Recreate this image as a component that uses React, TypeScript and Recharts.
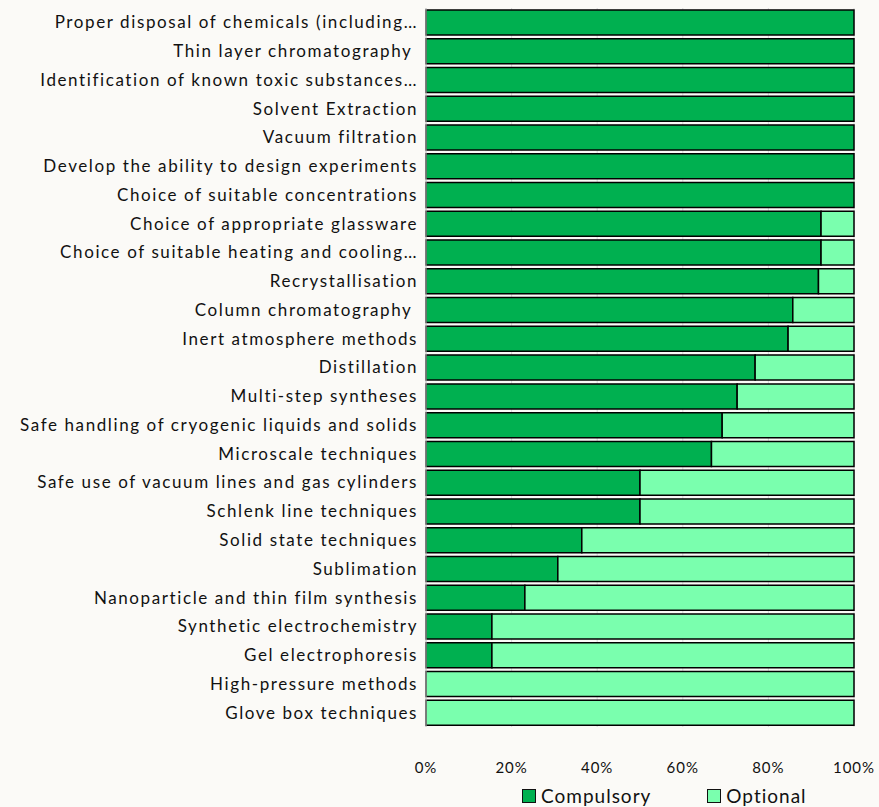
import { BarChart, Bar, XAxis, YAxis, CartesianGrid, Legend } from "recharts";

const categories = [
  "Proper disposal of chemicals (including…",
  "Thin layer chromatography ",
  "Identification of known toxic substances…",
  "Solvent Extraction",
  "Vacuum filtration",
  "Develop the ability to design experiments",
  "Choice of suitable concentrations",
  "Choice of appropriate glassware",
  "Choice of suitable heating and cooling…",
  "Recrystallisation",
  "Column chromatography ",
  "Inert atmosphere methods",
  "Distillation",
  "Multi-step syntheses",
  "Safe handling of cryogenic liquids and solids",
  "Microscale techniques",
  "Safe use of vacuum lines and gas cylinders",
  "Schlenk line techniques",
  "Solid state techniques",
  "Sublimation",
  "Nanoparticle and thin film synthesis",
  "Synthetic electrochemistry",
  "Gel electrophoresis",
  "High-pressure methods",
  "Glove box techniques",
];

const compulsory = [100, 100, 100, 100, 100, 100, 100, 92.3, 92.3, 91.7, 85.7, 84.6, 76.9, 72.7, 69.2, 66.7, 50, 50, 36.4, 30.8, 23.1, 15.4, 15.4, 0, 0];
const optional = [0, 0, 0, 0, 0, 0, 0, 7.7, 7.7, 8.3, 14.3, 15.4, 23.1, 27.3, 30.8, 33.3, 50, 50, 63.6, 69.2, 76.9, 84.6, 84.6, 100, 100];

const xTicks = [0, 20, 40, 60, 80, 100];

const data = categories.map((name, i) => ({ name, compulsory: compulsory[i], optional: optional[i] }));

const FONT = "Lato, 'Open Sans', sans-serif";

const CategoryTick = (props: any) => {
  const { x, y, payload } = props;
  return (
    <text x={x} y={y} dy="0.35em" textAnchor="end" fill="#111" fontSize={17} letterSpacing={1.6} fontFamily={FONT} style={{ whiteSpace: "pre" }}>
      {payload.value}
    </text>
  );
};

const LegendContent = (props: any) => {
  const items = props.payload || [];
  return (
    <div style={{ display: "flex", gap: 56, paddingLeft: 522, fontFamily: FONT, fontSize: 19, letterSpacing: 1, color: "#111" }}>
      {items.map((it: any) => (
        <div key={it.value} style={{ display: "flex", alignItems: "center", gap: 5 }}>
          <span style={{ width: 12, height: 12, background: it.color, border: "1.5px solid #111", display: "inline-block" }} />
          <span>{it.value}</span>
        </div>
      ))}
    </div>
  );
};

export default function App() {
  return (
    <div style={{ position: "absolute", left: 0, top: 0, width: 879, height: 807, background: "#fbfaf7" }}>
      <BarChart
        width={879}
        height={807}
        data={data}
        layout="vertical"
        margin={{ top: 8, right: 25, left: 0, bottom: 0 }}
      >
        <CartesianGrid horizontal={false} stroke="#d9d9d9" />
        <XAxis
          type="number"
          domain={[0, 100]}
          ticks={xTicks}
          tickFormatter={(v: number) => `${v}%`}
          axisLine={false}
          tickLine={false}
          tickSize={0}
          tickMargin={35}
          height={57}
          tick={{ fontSize: 15, fill: "#111", fontFamily: FONT, letterSpacing: 1 }}
        />
        <YAxis
          type="category"
          dataKey="name"
          width={426}
          axisLine={{ stroke: "#bfbfbf" }}
          tickLine={false}
          tickSize={0}
          tickMargin={8}
          interval={0}
          tick={<CategoryTick />}
        />
        <Legend verticalAlign="bottom" content={<LegendContent />} wrapperStyle={{ left: 0, width: 879 }} />
        <Bar dataKey="compulsory" name="Compulsory" stackId="a" fill="#00b050" stroke="#000" strokeWidth={1.5} barSize={25} isAnimationActive={false} />
        <Bar dataKey="optional" name="Optional" stackId="a" fill="#7affae" stroke="#000" strokeWidth={1.5} barSize={25} isAnimationActive={false} />
      </BarChart>
    </div>
  );
}
